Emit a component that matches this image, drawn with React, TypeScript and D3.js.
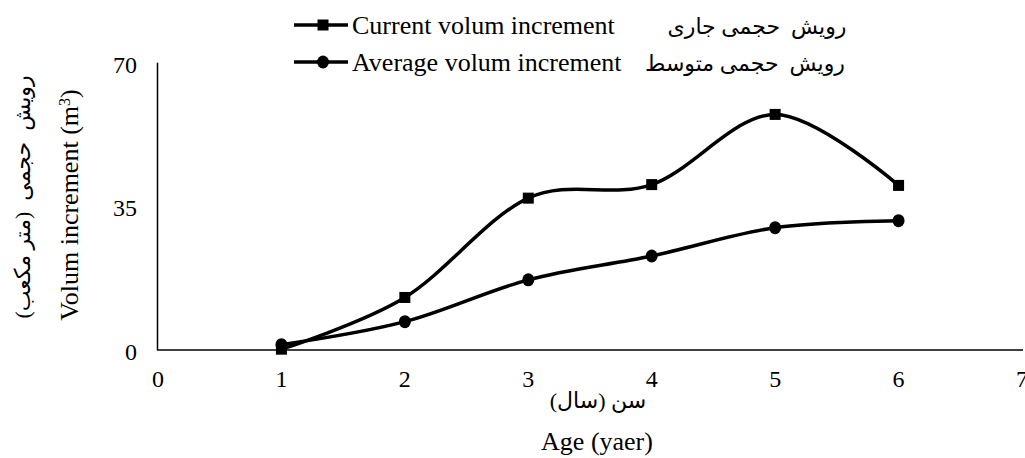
import React from "react";
import * as d3 from "d3";

const ages = [1, 2, 3, 4, 5, 6];
const currentIncrement = [0.2, 12.8, 37.0, 40.3, 57.4, 40.1];
const averageIncrement = [1.3, 6.9, 17.1, 22.9, 29.8, 31.5];
const xTicks = [0, 1, 2, 3, 4, 5, 6, 7];
const yTicks = [0, 35, 70];

const seriesNames = ["Current volum increment", "Average volum increment"];
const seriesNamesFa = ["رویش  حجمی جاری", "رویش  حجمی متوسط"];
const xTitle = "Age (yaer)";
const xTitleFa = "سن (سال)";
const yTitleFa = "رویش  حجمی  (متر مکعب)";

const W = 1025;
const H = 458;
const serif = "'Liberation Serif', 'Times New Roman', serif";
const faFont = "'Liberation Serif', 'DejaVu Sans', serif";

export default function App() {
  const x = d3.scaleLinear().domain([0, 7]).range([158, 1022]);
  const y = d3.scaleLinear().domain([0, 70]).range([350, 62.7]);
  const line = d3
    .line<number>()
    .x((_, i) => x(ages[i]))
    .y((d) => y(d))
    .curve(d3.curveCardinal.tension(0));

  const sq = 11;
  const cr = 6;
  const pre = { whiteSpace: "pre" as const };

  return (
    <svg
      width={W}
      height={H}
      style={{ position: "absolute", left: 0, top: 0, background: "#fff" }}
    >
      {/* axes */}
      <line x1={157.5} x2={157.5} y1={62.7} y2={350} stroke="#000" strokeWidth={1.5} />
      <line x1={157} x2={1023} y1={350} y2={350} stroke="#000" strokeWidth={1.5} />

      {yTicks.map((t) => (
        <text
          key={"y" + t}
          x={137}
          y={y(t) + 2}
          textAnchor="end"
          dominantBaseline="central"
          fontFamily={serif}
          fontSize={24}
        >
          {t}
        </text>
      ))}
      {xTicks.map((t) => (
        <text
          key={"x" + t}
          x={x(t)}
          y={387}
          textAnchor="middle"
          fontFamily={serif}
          fontSize={24}
        >
          {t}
        </text>
      ))}

      {/* x titles */}
      <text x={598} y={408} textAnchor="middle" fontFamily={faFont} fontSize={22} direction="rtl" style={pre}>
        {xTitleFa}
      </text>
      <text x={597} y={450} textAnchor="middle" fontFamily={serif} fontSize={26}>
        {xTitle}
      </text>

      {/* y titles */}
      <text
        transform={`translate(78,205) rotate(-90)`}
        textAnchor="middle"
        fontFamily={serif}
        fontSize={26}
      >
        Volum increment (m
        <tspan baselineShift="super" fontSize={16}>
          3
        </tspan>
        )
      </text>
      <text
        transform={`translate(30,197) rotate(-90)`}
        textAnchor="middle"
        fontFamily={faFont}
        fontSize={22}
        direction="rtl"
        style={pre}
      >
        {yTitleFa}
      </text>

      {/* series lines */}
      <path d={line(currentIncrement) || ""} fill="none" stroke="#000" strokeWidth={3.5} />
      <path d={line(averageIncrement) || ""} fill="none" stroke="#000" strokeWidth={3.5} />

      {currentIncrement.map((v, i) => (
        <rect
          key={"c" + i}
          x={x(ages[i]) - sq / 2}
          y={y(v) - sq / 2}
          width={sq}
          height={sq}
          fill="#000"
        />
      ))}
      {averageIncrement.map((v, i) => (
        <ellipse key={"a" + i} cx={x(ages[i])} cy={y(v)} rx={cr} ry={cr + 0.5} fill="#000" />
      ))}

      {/* legend */}
      {[0, 1].map((k) => {
        const ly = k === 0 ? 25 : 62;
        return (
          <g key={"lg" + k}>
            <line x1={294} x2={348} y1={ly} y2={ly} stroke="#000" strokeWidth={3.5} />
            {k === 0 ? (
              <rect x={323 - sq / 2} y={ly - sq / 2} width={sq} height={sq} fill="#000" />
            ) : (
              <ellipse cx={323} cy={ly} rx={cr} ry={cr + 0.5} fill="#000" />
            )}
            <text
              x={352}
              y={ly + 9}
              fontFamily={serif}
              fontSize={26}
            >
              {seriesNames[k]}
            </text>
            <text
              x={k === 0 ? 757 : 745}
              y={ly + 9}
              textAnchor="middle"
              fontFamily={faFont}
              fontSize={22}
              direction="rtl"
              style={pre}
            >
              {seriesNamesFa[k]}
            </text>
          </g>
        );
      })}
    </svg>
  );
}
